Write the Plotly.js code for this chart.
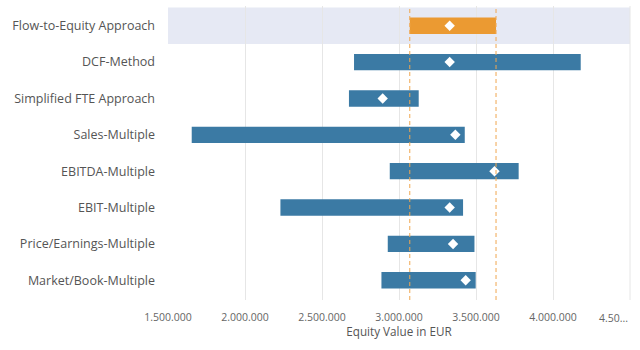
<!DOCTYPE html>
<html>
<head>
<meta charset="utf-8">
<script src="https://cdn.plot.ly/plotly-3.0.1.min.js"></script>
<style>html,body{margin:0;padding:0;background:#fff;}#chart{width:640px;height:350px;}</style>
</head>
<body>
<div id="chart"></div>
<script>
const categories = ["Flow-to-Equity Approach","DCF-Method","Simplified FTE Approach","Sales-Multiple","EBITDA-Multiple","EBIT-Multiple","Price/Earnings-Multiple","Market/Book-Multiple"];
const lowValues  = [3070000, 2708000, 2675000, 1654000, 2940000, 2230000, 2927000, 2886000];
const highValues = [3630000, 4180000, 3128000, 3427000, 3777000, 3416000, 3490000, 3498000];
const midValues  = [3329000, 3329000, 2894000, 3366000, 3620000, 3329000, 3351000, 3433000];
const tickValues = [1500000, 2000000, 2500000, 3000000, 3500000, 4000000, 4500000];
const tickLabels = ["1.500.000","2.000.000","2.500.000","3.000.000","3.500.000","4.000.000","4.50..."];

const colors = categories.map((c,i)=> i===0 ? "#eb9a32" : "#3b7aa4");
const last = tickLabels.length - 1;
// the last label sits left of its tick in the reference (kept inside the chart)
const tickText = tickLabels.map((t,i)=> i===last ? "" : t);

const barTrace = {
  type: "bar", orientation: "h",
  y: categories,
  base: lowValues,
  x: highValues.map((h,i)=>h-lowValues[i]),
  width: 0.45,
  marker: {color: colors, line: {width: 0}},
  hoverinfo: "skip"
};
const midTrace = {
  type: "scatter", mode: "markers",
  y: categories, x: midValues,
  marker: {symbol: "diamond", size: 8, color: "#ffffff", line: {width: 0}},
  hoverinfo: "skip"
};

const layout = {
  width: 640, height: 350,
  margin: {l: 168, r: 10, t: 6, b: 50},
  paper_bgcolor: "#ffffff", plot_bgcolor: "#ffffff",
  showlegend: false,
  font: {family: "Open Sans, sans-serif", size: 11, color: "#555"},
  xaxis: {
    range: [1499999, 4500001],
    tickvals: tickValues, ticktext: tickText,
    showgrid: true, gridcolor: "#e6e6e6", gridwidth: 1,
    zeroline: false, showline: false, ticks: "",
    ticklabeloverflow: "allow",
    ticklabelstandoff: 9,
    tickfont: {size: 10.5, color: "#666"},
    title: {text: "Equity Value in EUR", font: {size: 11.7, color: "#555"}, standoff: 4}
  },
  yaxis: {
    type: "category",
    autorange: "reversed",
    range: [7.5, -0.5],
    showgrid: false, zeroline: false, showline: false, ticks: "",
    ticklabelstandoff: 12,
    tickfont: {size: 12.5, color: "#555"}
  },
  annotations: [
    {xref: "x", yref: "paper", x: tickValues[last], y: 0, text: tickLabels[last],
     xanchor: "right", yanchor: "middle", yshift: -18, showarrow: false,
     font: {size: 10.5, color: "#666"}}
  ],
  shapes: [
    {type: "rect", xref: "paper", yref: "y", x0: 0, x1: 1, y0: -0.5, y1: 0.5,
     fillcolor: "#e6e9f4", line: {width: 0}, layer: "below"},
    {type: "line", xref: "x", yref: "paper", x0: lowValues[0], x1: lowValues[0], y0: 0, y1: 1,
     line: {color: "#f0a750", width: 1, dash: "4px,3px"}, layer: "above"},
    {type: "line", xref: "x", yref: "paper", x0: highValues[0], x1: highValues[0], y0: 0, y1: 1,
     line: {color: "#f0a750", width: 1, dash: "4px,3px"}, layer: "above"},
    {type: "line", xref: "paper", yref: "paper", x0: 1, x1: 1, y0: 0, y1: 1,
     line: {color: "#e6e6e6", width: 1}, layer: "below"}
  ]
};

Plotly.newPlot("chart", [barTrace, midTrace], layout, {staticPlot: true, displayModeBar: false});
</script>
</body>
</html>
